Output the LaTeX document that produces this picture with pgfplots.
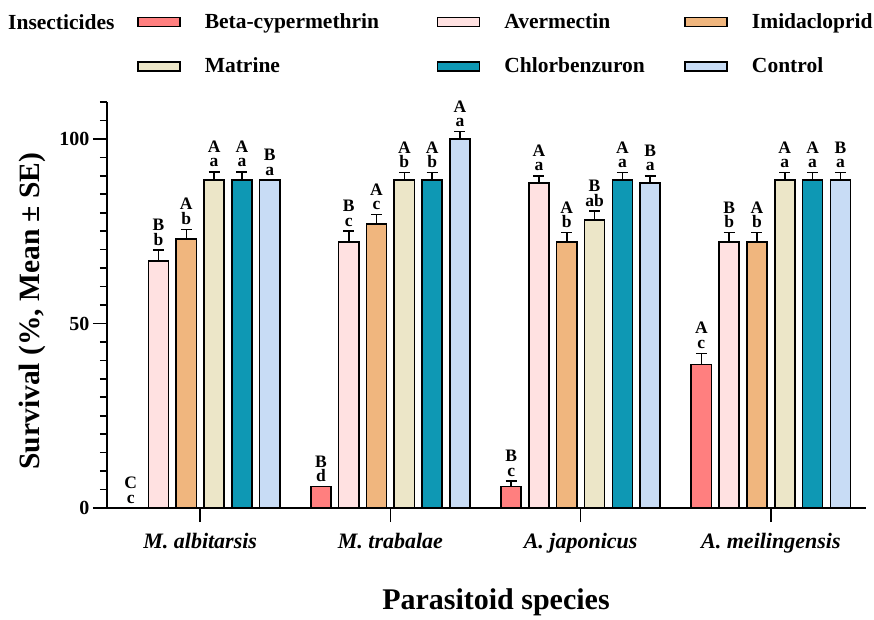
\documentclass[border=0pt]{standalone}
\usepackage{fontspec}
\setmainfont{Liberation Serif}
\usepackage{pgfplots}
\pgfplotsset{compat=1.18}
\usepackage{pgfplotstable}

\definecolor{cBeta}{HTML}{FF7F7F}
\definecolor{cAver}{HTML}{FFE1E1}
\definecolor{cImid}{HTML}{F0B67E}
\definecolor{cMat}{HTML}{ECE6C8}
\definecolor{cChl}{HTML}{0E98B4}
\definecolor{cCtrl}{HTML}{C8DCF5}

\newcommand\legfont{\fontsize{21.5}{24}\selectfont\bfseries}
\newcommand\labfont{\fontsize{17.5}{14.5}\selectfont\bfseries}
\def\splitlab#1/#2\relax{#1\\#2}

\pgfplotstableread{
g y e M
0 0 0 C/c
1 5.8 0 B/d
2 5.8 1.5 B/c
3 38.9 3 A/c
}\tBeta
\pgfplotstableread{
g y e M
0 66.9 3 B/b
1 72.0 3 B/c
2 88.0 2 A/a
3 72.0 2.6 B/b
}\tAver
\pgfplotstableread{
g y e M
0 72.9 2.6 A/b
1 77.0 2.5 A/c
2 72.0 2.6 A/b
3 72.0 2.6 A/b
}\tImid
\pgfplotstableread{
g y e M
0 88.9 2.2 A/a
1 88.9 2 A/b
2 78.0 2.4 B/ab
3 88.9 2 A/a
}\tMat
\pgfplotstableread{
g y e M
0 88.9 2.2 A/a
1 88.9 2 A/b
2 88.9 2 A/a
3 88.9 2 A/a
}\tChl
\pgfplotstableread{
g y e M
0 88.9 0 B/a
1 100 2 A/a
2 88.0 2 B/a
3 88.9 2 B/a
}\tCtrl

\pgfplotsset{
  mybar/.style={ybar, bar width=0.106, bar shift=0pt, draw=black, line width=1.6pt,
    legend image code/.code={\draw[##1, line width=1.6pt] (0pt,-5pt) rectangle (42pt,4pt);},
    /pgfplots/error bars/y dir=plus,
    /pgfplots/error bars/y explicit,
    /pgfplots/error bars/error bar style={line width=1.6pt, black},
    /pgfplots/error bars/error mark options={rotate=90, mark size=5.5pt, line width=1.6pt, black}},
  lab/.style={forget plot, draw=none, mark=none, point meta=explicit symbolic,
    nodes near coords={\expandafter\splitlab\pgfplotspointmeta\relax},
    nodes near coords style={anchor=south, align=center, inner sep=0pt, font=\labfont,
      text=black, yshift=4.5pt}},
}

\begin{document}
\begin{tikzpicture}
\useasboundingbox (-107pt,-111pt) rectangle (767pt,508pt);
\begin{axis}[
  at={(0pt,0pt)}, anchor=south west,
  scale only axis, width=759pt, height=406pt,
  clip=false,
  axis x line*=bottom, axis y line*=left,
  axis line style={line width=1.6pt, black},
  xmin=-0.49, xmax=3.5, ymin=0, ymax=110,
  xtick={0,1,2,3},
  xticklabels={M. albitarsis, M. trabalae, A. japonicus, A. meilingensis},
  ytick={0,50,100}, minor ytick={5,10,...,110},
  tick align=outside, major tick length=14pt, minor tick length=7pt,
  tick style={line width=1.6pt, black},
  /pgf/number format/assume math mode=true,
  xticklabel style={font=\fontsize{22}{24}\selectfont\bfseries\itshape, yshift=-8pt},
  yticklabel style={font=\fontsize{20}{22}\selectfont\bfseries},
  xlabel={Parasitoid species},
  ylabel={Survival (\%, Mean ± SE)},
  xlabel style={at={(axis description cs:0.5125,-0.2512)}, anchor=base, font=\fontsize{30}{32}\selectfont\bfseries},
  ylabel style={at={(axis description cs:-0.0985,0.485)}, anchor=center, font=\fontsize{29.5}{32}\selectfont\bfseries},
  legend columns=3,
  legend cell align=left,
  legend style={draw=none, fill=none, at={(rel axis cs:0.0395,1.2192)}, anchor=north west,
    inner sep=0pt, font=\legfont, row sep=28pt, nodes={inner sep=0pt},
    /tikz/every odd column/.append style={column sep=24pt}},
]
\addplot[fill=cBeta, mybar] table[x expr=\thisrow{g}-0.3655, y=y, y error=e]{\tBeta};
\addlegendentry{\makebox[232pt][l]{Beta-cypermethrin}}
\addplot[fill=cAver, mybar] table[x expr=\thisrow{g}-0.2193, y=y, y error=e]{\tAver};
\addlegendentry{\makebox[180pt][l]{Avermectin}}
\addplot[fill=cImid, mybar] table[x expr=\thisrow{g}-0.0731, y=y, y error=e]{\tImid};
\addlegendentry{Imidacloprid}
\addplot[fill=cMat, mybar] table[x expr=\thisrow{g}+0.0731, y=y, y error=e]{\tMat};
\addlegendentry{\makebox[232pt][l]{Matrine}}
\addplot[fill=cChl, mybar] table[x expr=\thisrow{g}+0.2193, y=y, y error=e]{\tChl};
\addlegendentry{\makebox[180pt][l]{Chlorbenzuron}}
\addplot[fill=cCtrl, mybar] table[x expr=\thisrow{g}+0.3655, y=y, y error=e]{\tCtrl};
\addlegendentry{Control}

\addplot[lab] table[x expr=\thisrow{g}-0.3655, y expr=\thisrow{y}+\thisrow{e}, meta=M]{\tBeta};
\addplot[lab] table[x expr=\thisrow{g}-0.2193, y expr=\thisrow{y}+\thisrow{e}, meta=M]{\tAver};
\addplot[lab] table[x expr=\thisrow{g}-0.0731, y expr=\thisrow{y}+\thisrow{e}, meta=M]{\tImid};
\addplot[lab] table[x expr=\thisrow{g}+0.0731, y expr=\thisrow{y}+\thisrow{e}, meta=M]{\tMat};
\addplot[lab] table[x expr=\thisrow{g}+0.2193, y expr=\thisrow{y}+\thisrow{e}, meta=M]{\tChl};
\addplot[lab] table[x expr=\thisrow{g}+0.3655, y expr=\thisrow{y}+\thisrow{e}, meta=M]{\tCtrl};

\node[anchor=base west, inner sep=0pt, font=\legfont] at (axis description cs:-0.1304,1.1798) {Insecticides};
\end{axis}
\end{tikzpicture}
\end{document}
